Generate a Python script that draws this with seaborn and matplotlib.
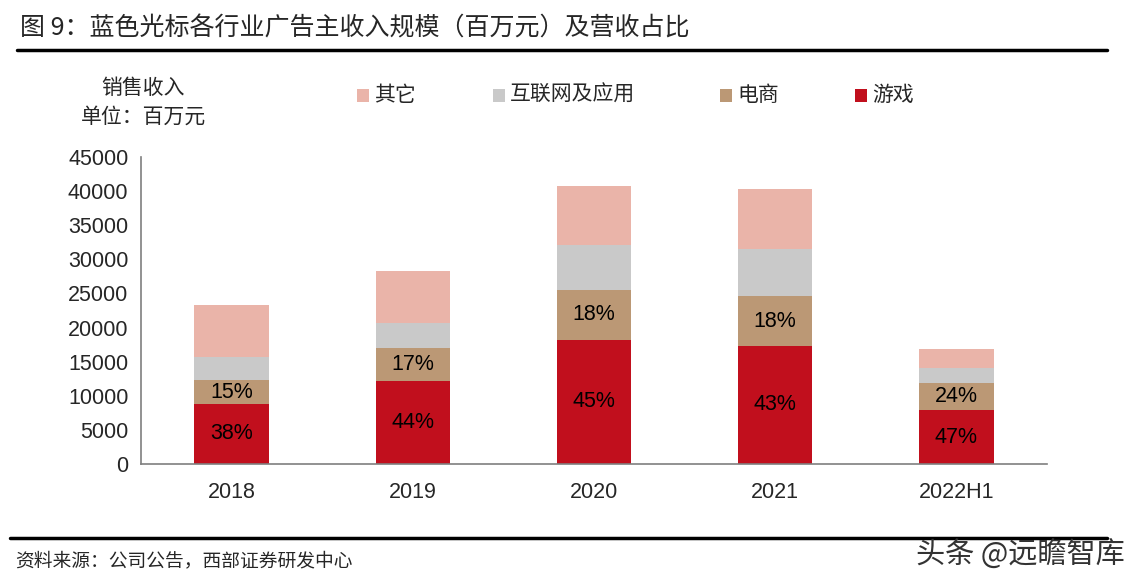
import numpy as np
import pandas as pd
import matplotlib
matplotlib.use("Agg")
import matplotlib.pyplot as plt
import seaborn as sns
from matplotlib.patches import Rectangle
from matplotlib.lines import Line2D

# -----------------------------
# DATA (百万元)
# -----------------------------
years = ["2018", "2019", "2020", "2021", "2022H1"]
game = [8800, 12200, 18200, 17300, 7900]
ecom = [3500, 4800, 7300, 7300, 3900]
internet = [3400, 3700, 6600, 6950, 2300]
other = [7600, 7600, 8650, 8750, 2750]

game_pct = ["38%", "44%", "45%", "43%", "47%"]
ecom_pct = ["15%", "17%", "18%", "18%", "24%"]

series_names = ["游戏", "电商", "互联网及应用", "其它"]
colors = {"游戏": "#C10F1D", "电商": "#BB9875", "互联网及应用": "#C9C9C9", "其它": "#EAB4A9"}

df = pd.DataFrame({"year": years, "游戏": game, "电商": ecom,
                   "互联网及应用": internet, "其它": other})

# -----------------------------
# FIGURE
# -----------------------------
sns.set_style("white")
plt.rcParams["font.family"] = ["Liberation Sans", "Noto Sans CJK SC", "DejaVu Sans"]
cjk = ["Noto Sans CJK SC", "DejaVu Sans"]

fig = plt.figure(figsize=(11.31, 5.88), dpi=100)
ax = fig.add_axes([141 / 1131, 1 - 464 / 588, (1047 - 141) / 1131, (464 - 157) / 588])

bottom = np.zeros(len(years))
for name in series_names:
    sns.barplot(data=df, x="year", y=name, color=colors[name], width=0.41,
                bottom=bottom, ax=ax, saturation=1, linewidth=0)
    bottom = bottom + df[name].values

# percentage labels
for i in range(len(years)):
    ax.text(i, game[i] / 2, game_pct[i], ha="center", va="center",
            fontsize=15.5, color="black")
    ax.text(i, game[i] + ecom[i] / 2, ecom_pct[i], ha="center", va="center",
            fontsize=15.5, color="black")

ax.set_xlim(-0.5, len(years) - 0.5)
ax.set_ylim(0, 45000)
ax.set_yticks(np.arange(0, 45001, 5000))
ax.set_yticklabels([str(v) for v in range(0, 45001, 5000)], fontsize=15.5)
ax.set_xlabel("")
ax.set_ylabel("")
ax.tick_params(axis="x", length=0, labelsize=15.5, pad=13)
ax.tick_params(axis="y", direction="out", length=5, width=1, color="#7F7F7F", pad=4)
ax.set_xticks(np.arange(-0.5, len(years)), minor=True)
ax.tick_params(axis="x", which="minor", direction="in", length=5, width=1, color="#7F7F7F")

for side in ["top", "right"]:
    ax.spines[side].set_visible(False)
for side in ["left", "bottom"]:
    ax.spines[side].set_color("#7F7F7F")
    ax.spines[side].set_linewidth(1.2)

# -----------------------------
# TEXT AROUND THE CHART
# -----------------------------
fig.text(20 / 1131, 1 - 28 / 588, "图 9：蓝色光标各行业广告主收入规模（百万元）及营收占比",
         fontsize=18, family=cjk, va="center", ha="left")
fig.add_artist(Line2D([17 / 1131, 1107 / 1131], [1 - 50 / 588] * 2, color="black", lw=2.5))

fig.text(143 / 1131, 1 - 88 / 588, "销售收入", fontsize=15, family=cjk, ha="center", va="center")
fig.text(143 / 1131, 1 - 117 / 588, "单位：百万元", fontsize=15, family=cjk, ha="center", va="center")

legend_items = [("其它", 357), ("互联网及应用", 493), ("电商", 720), ("游戏", 855)]
for name, x in legend_items:
    fig.add_artist(Rectangle((x / 1131, 1 - 102 / 588), 12 / 1131, 13 / 588,
                             facecolor=colors[name], edgecolor="none"))
    fig.text((x + 17) / 1131, 1 - 95 / 588, name, fontsize=15, family=cjk, va="center", ha="left")

fig.add_artist(Line2D([10 / 1131, 1107 / 1131], [1 - 538 / 588] * 2, color="black", lw=2.5))
fig.text(15 / 1131, 1 - 561 / 588, "资料来源：公司公告，西部证券研发中心", fontsize=13.5,
         family=cjk, va="center", ha="left")
fig.text(1125 / 1131, 1 - 556 / 588, "头条 @远瞻智库", fontsize=21, family=cjk,
         va="center", ha="right", color="#333333")

fig.savefig("out.png", dpi=100)
